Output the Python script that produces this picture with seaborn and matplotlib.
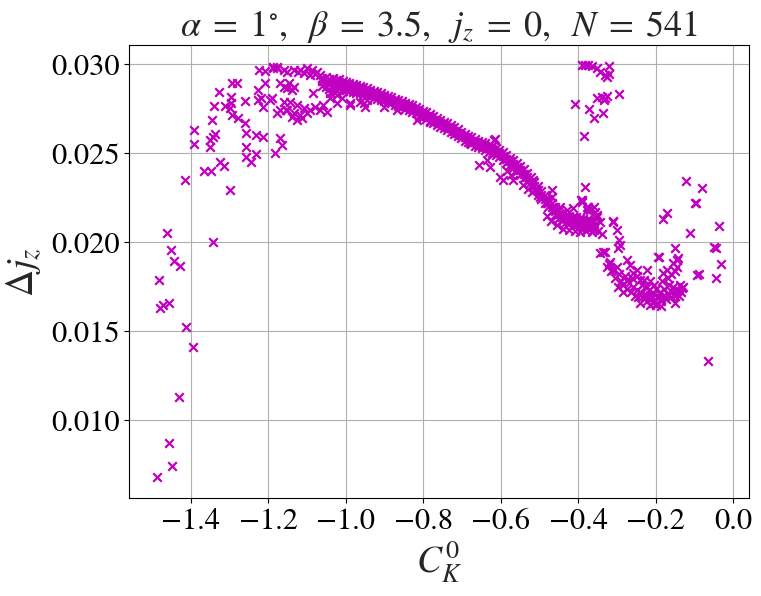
import numpy as np
import pandas as pd
import matplotlib
matplotlib.use("Agg")
import matplotlib.pyplot as plt
import seaborn as sns

# ---------------- data ----------------
# far-left sparse points
left_x = [-1.487, -1.449, -1.457, -1.430, -1.396, -1.413, -1.483, -1.479, -1.473,
          -1.457, -1.463, -1.452, -1.444, -1.428, -1.415, -1.393, -1.392]
left_y = [0.00680, 0.00742, 0.00875, 0.01133, 0.01410, 0.01526, 0.01788, 0.01630, 0.01650,
          0.01660, 0.02050, 0.01957, 0.01897, 0.01869, 0.02350, 0.02553, 0.02631]

# rising part, x in [-1.38, -1.16]
rise_x = [-1.344, -1.298, -1.366, -1.349, -1.325, -1.315, -1.347, -1.340, -1.327, -1.351,
          -1.351, -1.338, -1.344, -1.295, -1.282, -1.297, -1.297, -1.311, -1.299, -1.295,
          -1.278, -1.261, -1.261, -1.257, -1.231, -1.214, -1.257, -1.257, -1.244, -1.231,
          -1.227, -1.227, -1.214, -1.218, -1.209, -1.197, -1.224, -1.209, -1.188, -1.179,
          -1.184, -1.171, -1.164]
rise_y = [0.02000, 0.02296, 0.02399, 0.02399, 0.02453, 0.02431, 0.02687, 0.02766, 0.02845, 0.02575,
          0.02534, 0.02607, 0.02590, 0.02893, 0.02893, 0.02815, 0.02785, 0.02766, 0.02753, 0.02715,
          0.02697, 0.02672, 0.02796, 0.02616, 0.02603, 0.02594, 0.02537, 0.02481, 0.02453, 0.02494,
          0.02856, 0.02800, 0.02762, 0.02809, 0.02893, 0.02800, 0.02968, 0.02964, 0.02987, 0.02983,
          0.02504, 0.02584, 0.02547]

# top arc and lower cluster, x in [-1.19, -1.02]
arc_x = [-1.187, -1.178, -1.152, -1.135, -1.118, -1.101, -1.088, -1.075, -1.066, -1.092,
         -1.109, -1.160, -1.125, -1.080, -1.169, -1.152, -1.135, -1.161, -1.139, -1.086,
         -1.191, -1.147, -1.161, -1.144, -1.126, -1.109, -1.092, -1.169, -1.178, -1.152,
         -1.135, -1.118, -1.126, -1.101, -1.066, -1.049, -1.058, -1.040, -1.032, -1.023,
         -1.113, -1.140, -1.080, -1.155]
arc_y = [0.02978, 0.02978, 0.02959, 0.02968, 0.02968, 0.02978, 0.02968, 0.02959, 0.02940, 0.02940,
         0.02949, 0.02970, 0.02955, 0.02945, 0.02893, 0.02865, 0.02875, 0.02875, 0.02856, 0.02837,
         0.02809, 0.02893, 0.02790, 0.02790, 0.02771, 0.02753, 0.02743, 0.02743, 0.02725, 0.02743,
         0.02725, 0.02715, 0.02687, 0.02725, 0.02743, 0.02734, 0.02771, 0.02809, 0.02846, 0.02828,
         0.02700, 0.02705, 0.02760, 0.02745]

# dense descending band, x in [-1.06, -0.62]: three rows of points
band_x = [-1.062, -1.051, -1.043, -1.034, -1.026, -1.017, -1.008, -0.999, -0.991, -0.982,
          -0.973, -0.964, -0.955, -0.946, -0.937, -0.928, -0.919, -0.910, -0.901, -0.892,
          -0.883, -0.874, -0.865, -0.856, -0.847, -0.838, -0.829, -0.820, -0.811, -0.802,
          -0.793, -0.784, -0.775, -0.766, -0.757, -0.748, -0.739, -0.730, -0.721, -0.712,
          -0.703, -0.694, -0.685, -0.676, -0.667, -0.658, -0.649, -0.640, -0.631, -0.622]
band_y_hi = [0.02925, 0.02930, 0.02918, 0.02925, 0.02910, 0.02915, 0.02905, 0.02902, 0.02895, 0.02890,
             0.02885, 0.02878, 0.02870, 0.02865, 0.02858, 0.02850, 0.02842, 0.02838, 0.02830, 0.02822,
             0.02815, 0.02808, 0.02800, 0.02792, 0.02785, 0.02778, 0.02770, 0.02760, 0.02750, 0.02740,
             0.02730, 0.02720, 0.02708, 0.02696, 0.02688, 0.02678, 0.02668, 0.02658, 0.02646, 0.02635,
             0.02622, 0.02610, 0.02600, 0.02590, 0.02580, 0.02572, 0.02565, 0.02556, 0.02548, 0.02540]
band_y_mid = [0.02905, 0.02900, 0.02893, 0.02898, 0.02885, 0.02890, 0.02878, 0.02880, 0.02872, 0.02868,
              0.02862, 0.02858, 0.02850, 0.02845, 0.02840, 0.02830, 0.02825, 0.02820, 0.02812, 0.02805,
              0.02798, 0.02790, 0.02782, 0.02775, 0.02768, 0.02760, 0.02752, 0.02742, 0.02732, 0.02722,
              0.02712, 0.02702, 0.02690, 0.02680, 0.02670, 0.02660, 0.02650, 0.02640, 0.02628, 0.02615,
              0.02604, 0.02592, 0.02580, 0.02572, 0.02562, 0.02555, 0.02548, 0.02540, 0.02530, 0.02522]
band_y_lo = [0.02880, 0.02870, 0.02860, 0.02872, 0.02855, 0.02862, 0.02850, 0.02855, 0.02848, 0.02845,
             0.02840, 0.02838, 0.02828, 0.02825, 0.02820, 0.02812, 0.02805, 0.02800, 0.02795, 0.02788,
             0.02780, 0.02772, 0.02765, 0.02758, 0.02750, 0.02742, 0.02735, 0.02725, 0.02712, 0.02702,
             0.02692, 0.02682, 0.02670, 0.02660, 0.02650, 0.02640, 0.02630, 0.02620, 0.02608, 0.02596,
             0.02585, 0.02572, 0.02562, 0.02552, 0.02542, 0.02535, 0.02528, 0.02520, 0.02510, 0.02500]

# loose crosses below the band
under_x = [-1.040, -1.023, -0.989, -0.954, -0.946, -0.903, -0.868, -0.817, -0.782, -0.714,
           -0.679, -0.619, -0.989, -1.010, -0.963, -0.950]
under_y = [0.02837, 0.02781, 0.02781, 0.02781, 0.02800, 0.02762, 0.02743, 0.02687, 0.02678, 0.02612,
           0.02556, 0.02575, 0.02771, 0.02809, 0.02790, 0.02762]

# steeper band, x in [-0.61, -0.35]
steep_x = [-0.613, -0.604, -0.595, -0.586, -0.577, -0.568, -0.559, -0.550, -0.541, -0.532,
           -0.523, -0.514, -0.505, -0.496, -0.487, -0.478, -0.469, -0.460, -0.451, -0.442,
           -0.433, -0.424, -0.415, -0.406, -0.397, -0.388, -0.379, -0.370, -0.361]
steep_y_hi = [0.02528, 0.02520, 0.02505, 0.02490, 0.02475, 0.02460, 0.02448, 0.02430, 0.02410, 0.02390,
              0.02365, 0.02340, 0.02315, 0.02290, 0.02268, 0.02245, 0.02222, 0.02200, 0.02180, 0.02165,
              0.02155, 0.02148, 0.02142, 0.02140, 0.02135, 0.02130, 0.02128, 0.02125, 0.02120]
steep_y_mid = [0.02510, 0.02500, 0.02485, 0.02470, 0.02455, 0.02440, 0.02425, 0.02405, 0.02385, 0.02365,
               0.02340, 0.02318, 0.02292, 0.02268, 0.02245, 0.02222, 0.02200, 0.02178, 0.02158, 0.02145,
               0.02135, 0.02128, 0.02122, 0.02118, 0.02112, 0.02108, 0.02105, 0.02100, 0.02095]
steep_y_lo = [0.02492, 0.02478, 0.02462, 0.02448, 0.02432, 0.02418, 0.02400, 0.02380, 0.02360, 0.02338,
              0.02315, 0.02292, 0.02268, 0.02245, 0.02222, 0.02200, 0.02178, 0.02155, 0.02135, 0.02122,
              0.02112, 0.02105, 0.02100, 0.02095, 0.02090, 0.02085, 0.02082, 0.02078, 0.02070]

# loose crosses around the steep band
loose_x = [-0.656, -0.628, -0.637, -0.602, -0.594, -0.568, -0.542, -0.516, -0.508, -0.499,
           -0.469, -0.469, -0.482, -0.447, -0.430, -0.413, -0.391, -0.379, -0.361, -0.353,
           -0.615, -0.585, -0.575, -0.530, -0.520, -0.480, -0.470, -0.455, -0.440, -0.425,
           -0.410, -0.395, -0.380, -0.365, -0.350]
loose_y = [0.02434, 0.02425, 0.02463, 0.02369, 0.02350, 0.02350, 0.02322, 0.02350, 0.02294, 0.02257,
           0.02294, 0.02257, 0.02219, 0.02200, 0.02182, 0.02191, 0.02238, 0.02182, 0.02200, 0.02153,
           0.02579, 0.02400, 0.02380, 0.02300, 0.02280, 0.02150, 0.02120, 0.02100, 0.02075, 0.02070,
           0.02065, 0.02060, 0.02062, 0.02058, 0.02065]

# isolated group near the top right
top_x = [-0.391, -0.383, -0.374, -0.366, -0.353, -0.344, -0.331, -0.325, -0.320, -0.322,
         -0.409, -0.372, -0.361, -0.353, -0.340, -0.331, -0.327, -0.335, -0.337, -0.294, -0.385]
top_y = [0.02996, 0.02996, 0.02996, 0.02990, 0.02978, 0.02959, 0.02940, 0.02931, 0.02990, 0.02944,
         0.02777, 0.02747, 0.02697, 0.02809, 0.02818, 0.02809, 0.02822, 0.02800, 0.02725, 0.02833, 0.02599]

# scattered points on the right
right_x = [-0.123, -0.082, -0.097, -0.172, -0.182, -0.112, -0.036, -0.049, -0.046, -0.033,
           -0.089, -0.045, -0.065, -0.151, -0.142, -0.155, -0.146, -0.192, -0.382, -0.099]
right_y = [0.02346, 0.02307, 0.02223, 0.02167, 0.02131, 0.02050, 0.02092, 0.01975, 0.01970, 0.01878,
           0.01820, 0.01801, 0.01333, 0.01966, 0.01910, 0.01882, 0.01863, 0.01916, 0.02309, 0.02219]

# descent into the trough
desc_x = [-0.393, -0.374, -0.357, -0.344, -0.340, -0.310, -0.301, -0.294, -0.293, -0.344,
          -0.331, -0.391, -0.379, -0.370, -0.353, -0.310, -0.297, -0.336, -0.318, -0.327,
          -0.310, -0.305, -0.297, -0.284, -0.275, -0.267, -0.275, -0.250, -0.241, -0.224,
          -0.224, -0.215, -0.198, -0.189, -0.181, -0.172, -0.194, -0.146, -0.142, -0.151,
          -0.129, -0.095]
desc_y = [0.02238, 0.02200, 0.02172, 0.02116, 0.02045, 0.02122, 0.02069, 0.02013, 0.01985, 0.01938,
          0.01947, 0.02229, 0.02200, 0.02182, 0.02144, 0.02116, 0.01966, 0.01948, 0.01891, 0.01863,
          0.01845, 0.01798, 0.01751, 0.01723, 0.01788, 0.01873, 0.01901, 0.01845, 0.01788, 0.01845,
          0.01751, 0.01704, 0.01695, 0.01723, 0.01826, 0.01845, 0.01919, 0.01901, 0.01732, 0.01657,
          0.01751, 0.01816]

# dense trough bottom
trough_x = [-0.320, -0.315, -0.300, -0.295, -0.290, -0.285, -0.280, -0.275, -0.270, -0.265,
            -0.262, -0.258, -0.255, -0.250, -0.245, -0.240, -0.236, -0.232, -0.228, -0.222,
            -0.218, -0.212, -0.208, -0.205, -0.200, -0.196, -0.192, -0.186, -0.182, -0.178,
            -0.174, -0.170, -0.166, -0.162, -0.158, -0.155, -0.150, -0.146, -0.140, -0.135,
            -0.132, -0.260, -0.248, -0.232, -0.215, -0.205, -0.185, -0.168, -0.160, -0.150,
            -0.138, -0.188, -0.200, -0.216, -0.225, -0.242]
trough_y = [0.01880, 0.01840, 0.01860, 0.01820, 0.01780, 0.01760, 0.01810, 0.01740, 0.01770, 0.01720,
            0.01800, 0.01750, 0.01700, 0.01730, 0.01690, 0.01720, 0.01760, 0.01680, 0.01710, 0.01670,
            0.01730, 0.01680, 0.01660, 0.01710, 0.01740, 0.01660, 0.01690, 0.01670, 0.01700, 0.01740,
            0.01680, 0.01710, 0.01760, 0.01690, 0.01720, 0.01750, 0.01700, 0.01730, 0.01700, 0.01720,
            0.01745, 0.01830, 0.01810, 0.01790, 0.01780, 0.01760, 0.01780, 0.01800, 0.01820, 0.01840,
            0.01760, 0.01640, 0.01650, 0.01650, 0.01700, 0.01660]

x_ticks = [-1.4, -1.2, -1.0, -0.8, -0.6, -0.4, -0.2, 0.0]
y_ticks = [0.010, 0.015, 0.020, 0.025, 0.030]

# ---------------- assemble ----------------
xs = (left_x + rise_x + arc_x + band_x * 3 + under_x + steep_x * 3 + loose_x
      + top_x + right_x + desc_x + trough_x)
ys = (left_y + rise_y + arc_y + band_y_hi + band_y_mid + band_y_lo + under_y
      + steep_y_hi + steep_y_mid + steep_y_lo + loose_y + top_y + right_y + desc_y + trough_y)
df = pd.DataFrame({"CK0": xs, "dj": ys})

sns.set_theme(style="ticks")
plt.rcParams["font.family"] = ["STIXGeneral", "DejaVu Serif"]
plt.rcParams["mathtext.fontset"] = "stix"
plt.rcParams["axes.edgecolor"] = "black"
plt.rcParams["xtick.color"] = "black"
plt.rcParams["ytick.color"] = "black"

fig = plt.figure(figsize=(7.61, 5.96), dpi=100)
ax = fig.add_axes([0.170, 0.164, 0.8146, 0.760])

sns.scatterplot(data=df, x="CK0", y="dj", ax=ax, marker="x", color="#bf00bf",
                s=38, linewidth=1.6, legend=False)

ax.set_xlim(-1.559, 0.041)
ax.set_ylim(0.00562, 0.03107)
ax.set_xticks(x_ticks)
ax.set_yticks(y_ticks)
ax.set_xticklabels([f"{v:.1f}".replace("-", "\u2212") for v in x_ticks])
ax.set_yticklabels([f"{v:.3f}" for v in y_ticks])
ax.grid(True, color="#b0b0b0", linewidth=0.8)
ax.set_axisbelow(True)
ax.tick_params(labelsize=22, direction="out", length=3.5, width=0.8)
for sp in ax.spines.values():
    sp.set_linewidth(0.8)
    sp.set_color("black")

ax.set_xlabel(r"$C_K^0$", fontsize=27, labelpad=2)
ax.set_ylabel(r"$\Delta j_z$", fontsize=27, labelpad=6)
ax.set_title(r"$\alpha\;=\;1^{\circ},\;\ \beta\;=\;3.5,\;\ j_z\;=\;0,\;\ N\;=\;541$",
             fontsize=26, pad=5)

fig.savefig("out.png", dpi=100)
